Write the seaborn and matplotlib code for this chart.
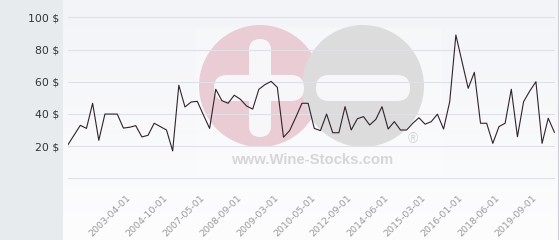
import numpy as np
import matplotlib
matplotlib.use("Agg")
import matplotlib.pyplot as plt
import matplotlib.patches as mpatches
from matplotlib.transforms import ScaledTranslation
import seaborn as sns

# ---------------- data ----------------
prices = [
    20.9, 26.9, 32.9, 31.0, 46.6, 23.6, 39.9, 39.9, 39.9, 31.2,
    31.7, 32.7, 25.7, 26.7, 34.2, 32.1, 30.0, 17.0, 57.8, 44.3,
    47.4, 47.8, 39.3, 31.0, 55.3, 48.2, 46.6, 51.6, 49.1, 44.9,
    43.0, 55.3, 58.2, 60.2, 56.5, 25.5, 29.6, 37.9, 46.6, 46.6,
    31.0, 29.6, 39.9, 28.3, 28.3, 44.5, 30.0, 37.0, 38.3, 33.1,
    36.6, 44.5, 30.6, 35.2, 30.0, 30.0, 34.2, 37.6, 33.6, 35.2,
    39.8, 30.6, 47.6, 89.0, 72.4, 55.9, 65.8, 34.2, 34.2, 21.7,
    32.1, 34.2, 55.3, 25.8, 47.6, 54.2, 60.0, 21.7, 37.3, 28.6,
]
tick_labels = ["2003-04-01", "2004-10-01", "2007-05-01", "2008-09-01",
               "2009-03-01", "2010-05-01", "2012-09-01", "2014-06-01",
               "2015-03-01", "2016-01-01", "2018-06-01", "2019-09-01"]
y_ticks = [0, 20, 40, 60, 80, 100]
y_labels = ["", "20 $", "40 $", "60 $", "80 $", "100 $"]
index = list(range(len(prices)))
first_tick, tick_step = 9, 6

# ---------------- figure ----------------
W, H = 560, 240
fig = plt.figure(figsize=(W / 100, H / 100), dpi=100)

# background / watermark layer in pixel coords
bg = fig.add_axes([0, 0, 1, 1], zorder=0)
bg.set_xlim(0, W)
bg.set_ylim(H, 0)
bg.axis("off")
grad = np.linspace(0, 1, 100).reshape(-1, 1)
top = np.array([0.953, 0.957, 0.973])
bot = np.array([0.992, 0.992, 0.996])
img = top + (bot - top) * grad[..., None]
img = img.reshape(100, 1, 3)
bg.imshow(img, extent=(63, 558, H, 0), aspect="auto", zorder=0)
bg.add_patch(mpatches.Rectangle((0, 0), 63, H, color="#e8ebee", zorder=1, lw=0))
bg.plot([558, 558], [0, H], color="#d0d0d6", lw=0.8, zorder=1)
bg.add_patch(mpatches.Rectangle((196, 28), 246, 148, color="white", alpha=0.25, lw=0, zorder=1))
# watermark circles
bg.add_patch(mpatches.Circle((260, 86), 61, color="#eaccd5", lw=0, zorder=2))
bg.add_patch(mpatches.Circle((363, 86), 61, color="#dcdcdd", lw=0, zorder=3))
bg.add_patch(mpatches.FancyBboxPatch((249, 39), 22, 98, boxstyle="round,pad=0,rounding_size=11",
                                     color="#f7f7f9", lw=0, zorder=3))
bg.add_patch(mpatches.FancyBboxPatch((214, 75), 90, 26, boxstyle="round,pad=0,rounding_size=13",
                                     color="#f7f7f9", lw=0, zorder=3))
bg.add_patch(mpatches.FancyBboxPatch((316, 75), 94, 26, boxstyle="round,pad=0,rounding_size=13",
                                     color="#f7f7f9", lw=0, zorder=4))
bg.text(312, 160, "www.Wine-Stocks.com", ha="center", va="center", fontsize=10.7,
        fontweight="bold", family="Liberation Sans", color="#d6d6d8", zorder=5)
bg.text(413, 139, "\u00ae", ha="center", va="center", fontsize=10,
        family="Liberation Sans", color="#d3d3d5", zorder=5)

# main chart
px_per_val = 1.61
y0_px = 178.3
ylo, yhi = -3, 105
top_px = y0_px - px_per_val * yhi
bot_px = y0_px - px_per_val * ylo
x_left, x_right = 68, 555
ax = fig.add_axes([x_left / W, (H - bot_px) / H, (x_right - x_left) / W, (bot_px - top_px) / H], zorder=2)
ax.patch.set_alpha(0)

sns.lineplot(x=index, y=prices, ax=ax, color="#30232a", linewidth=0.8, zorder=3)

ax.set_xlim(0, 79.1)
ax.set_ylim(ylo, yhi)
ax.set_yticks(y_ticks)
ax.set_yticklabels(y_labels)
ax.yaxis.grid(True, color="#e0e0e6", linewidth=0.8)
ax.set_axisbelow(True)
tick_pos = list(range(first_tick, first_tick + tick_step * len(tick_labels), tick_step))
ax.set_xticks(tick_pos)
ax.set_xticklabels(tick_labels, rotation=45, ha="right", va="top", rotation_mode="anchor")
for s in ax.spines.values():
    s.set_visible(False)
ax.tick_params(axis="y", length=0, pad=6.5, labelsize=7.8, labelcolor="#333333")
ax.tick_params(axis="x", length=0, pad=7, labelsize=6.8, labelcolor="#9a9a9a")
off = ScaledTranslation(2.5 / 100, 0, fig.dpi_scale_trans)
for lab in ax.get_xticklabels():
    lab.set_transform(lab.get_transform() + off)
ax.set_xlabel("")
ax.set_ylabel("")

fig.savefig("out.png", dpi=100)
